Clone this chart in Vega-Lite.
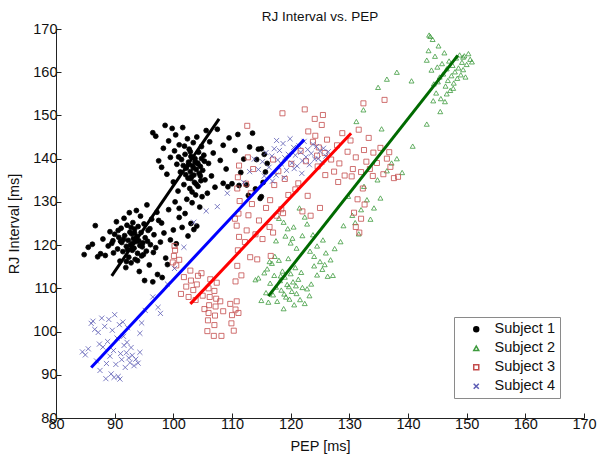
{
"$schema": "https://vega.github.io/schema/vega-lite/v6.json",
"width": 528, "height": 389,
"autosize": "none",
"padding": {"left": 56, "top": 29, "right": 16, "bottom": 44},
"background": "white",
"config": {"view": {"stroke": null}, "font": "Liberation Sans",
  "axis": {"grid": false, "domainColor": "#222", "tickColor": "#222", "labelColor": "#111", "titleColor": "#111", "labelFontSize": 14.5, "titleFontSize": 14.5, "titleFontWeight": "normal", "tickSize": -5, "labelFont": "Liberation Sans", "titleFont": "Liberation Sans", "labelFlush": false, "labelOverlap": false}},
"title": {"text": "RJ Interval vs. PEP", "fontSize": 13.5, "fontWeight": "normal", "font": "Liberation Sans", "color": "#111", "baseline": "alphabetic", "offset": -13, "anchor": "middle"},
"datasets": {
"lines": [
{"subject": "Subject 1", "pep": 89.5, "rj": 112.9}, {"subject": "Subject 1", "pep": 107.8, "rj": 149.2},
{"subject": "Subject 2", "pep": 116.2, "rj": 108.2}, {"subject": "Subject 2", "pep": 148.5, "rj": 163.9},
{"subject": "Subject 3", "pep": 102.9, "rj": 106.4}, {"subject": "Subject 3", "pep": 130.3, "rj": 145.9},
{"subject": "Subject 4", "pep": 86.0, "rj": 91.7}, {"subject": "Subject 4", "pep": 122.3, "rj": 144.4}
],
"points": [
{"subject":"Subject 1","pep":84.8,"rj":117.8},{"subject":"Subject 1","pep":85.5,"rj":119.5},{"subject":"Subject 1","pep":86.2,"rj":120.2},{"subject":"Subject 1","pep":86.7,"rj":124.5},{"subject":"Subject 1","pep":87.1,"rj":117.3},{"subject":"Subject 1","pep":87.6,"rj":118.0},{"subject":"Subject 1","pep":88.0,"rj":121.4},{"subject":"Subject 1","pep":88.4,"rj":117.6},{"subject":"Subject 1","pep":88.9,"rj":119.8},{"subject":"Subject 1","pep":89.2,"rj":123.1},
{"subject":"Subject 1","pep":89.5,"rj":120.4},{"subject":"Subject 1","pep":89.8,"rj":118.2},{"subject":"Subject 1","pep":90.0,"rj":122.5},{"subject":"Subject 1","pep":90.3,"rj":125.4},{"subject":"Subject 1","pep":90.5,"rj":119.1},{"subject":"Subject 1","pep":90.7,"rj":121.8},{"subject":"Subject 1","pep":90.9,"rj":116.3},{"subject":"Subject 1","pep":91.1,"rj":123.9},{"subject":"Subject 1","pep":91.2,"rj":120.6},{"subject":"Subject 1","pep":91.4,"rj":118.5},
{"subject":"Subject 1","pep":91.6,"rj":126.2},{"subject":"Subject 1","pep":91.7,"rj":122.2},{"subject":"Subject 1","pep":91.9,"rj":114.8},{"subject":"Subject 1","pep":92.0,"rj":119.7},{"subject":"Subject 1","pep":92.1,"rj":124.6},{"subject":"Subject 1","pep":92.3,"rj":121.1},{"subject":"Subject 1","pep":92.4,"rj":117.2},{"subject":"Subject 1","pep":92.5,"rj":127.5},{"subject":"Subject 1","pep":92.6,"rj":123.0},{"subject":"Subject 1","pep":92.7,"rj":120.0},
{"subject":"Subject 1","pep":92.8,"rj":115.9},{"subject":"Subject 1","pep":92.9,"rj":122.6},{"subject":"Subject 1","pep":93.0,"rj":118.8},{"subject":"Subject 1","pep":93.1,"rj":125.2},{"subject":"Subject 1","pep":93.2,"rj":121.5},{"subject":"Subject 1","pep":93.3,"rj":119.3},{"subject":"Subject 1","pep":93.4,"rj":123.7},{"subject":"Subject 1","pep":93.5,"rj":116.7},{"subject":"Subject 1","pep":93.6,"rj":120.8},{"subject":"Subject 1","pep":93.7,"rj":128.0},
{"subject":"Subject 1","pep":93.8,"rj":122.0},{"subject":"Subject 1","pep":93.9,"rj":118.1},{"subject":"Subject 1","pep":94.0,"rj":124.3},{"subject":"Subject 1","pep":94.1,"rj":121.0},{"subject":"Subject 1","pep":94.2,"rj":113.9},{"subject":"Subject 1","pep":94.3,"rj":119.9},{"subject":"Subject 1","pep":94.4,"rj":126.7},{"subject":"Subject 1","pep":94.5,"rj":122.9},{"subject":"Subject 1","pep":94.6,"rj":117.5},{"subject":"Subject 1","pep":94.8,"rj":120.5},
{"subject":"Subject 1","pep":95.0,"rj":124.9},{"subject":"Subject 1","pep":95.1,"rj":111.8},{"subject":"Subject 1","pep":95.2,"rj":121.7},{"subject":"Subject 1","pep":95.4,"rj":118.6},{"subject":"Subject 1","pep":95.5,"rj":129.3},{"subject":"Subject 1","pep":95.7,"rj":123.4},{"subject":"Subject 1","pep":95.9,"rj":115.4},{"subject":"Subject 1","pep":96.1,"rj":120.1},{"subject":"Subject 1","pep":96.3,"rj":126.0},{"subject":"Subject 1","pep":96.5,"rj":111.5},
{"subject":"Subject 1","pep":96.7,"rj":122.4},{"subject":"Subject 1","pep":97.0,"rj":119.4},{"subject":"Subject 1","pep":97.3,"rj":113.2},{"subject":"Subject 1","pep":97.5,"rj":125.7},{"subject":"Subject 1","pep":97.8,"rj":120.7},{"subject":"Subject 1","pep":98.1,"rj":112.5},{"subject":"Subject 1","pep":98.4,"rj":122.8},{"subject":"Subject 1","pep":98.7,"rj":117.0},{"subject":"Subject 1","pep":99.0,"rj":115.5},{"subject":"Subject 1","pep":99.5,"rj":121.2},
{"subject":"Subject 1","pep":100.0,"rj":123.5},{"subject":"Subject 1","pep":100.5,"rj":120.3},{"subject":"Subject 1","pep":101.0,"rj":126.4},{"subject":"Subject 1","pep":101.5,"rj":124.1},{"subject":"Subject 1","pep":102.0,"rj":127.3},{"subject":"Subject 1","pep":102.5,"rj":122.1},{"subject":"Subject 1","pep":103.0,"rj":125.0},{"subject":"Subject 1","pep":103.5,"rj":123.6},{"subject":"Subject 1","pep":104.0,"rj":124.4},{"subject":"Subject 1","pep":101.0,"rj":128.5},
{"subject":"Subject 1","pep":100.3,"rj":130.0},{"subject":"Subject 1","pep":91.5,"rj":121.3},{"subject":"Subject 1","pep":92.2,"rj":118.9},{"subject":"Subject 1","pep":93.4,"rj":122.8},{"subject":"Subject 1","pep":94.7,"rj":119.6},{"subject":"Subject 1","pep":92.8,"rj":124.1},{"subject":"Subject 1","pep":91.0,"rj":120.9},{"subject":"Subject 1","pep":93.9,"rj":116.4},{"subject":"Subject 1","pep":95.6,"rj":120.9},{"subject":"Subject 1","pep":90.6,"rj":123.4},
{"subject":"Subject 1","pep":94.9,"rj":117.8},{"subject":"Subject 1","pep":96.0,"rj":123.8},{"subject":"Subject 1","pep":92.0,"rj":116.2},{"subject":"Subject 1","pep":93.0,"rj":120.4},{"subject":"Subject 1","pep":89.7,"rj":121.0},{"subject":"Subject 1","pep":96.6,"rj":118.3},{"subject":"Subject 1","pep":98.0,"rj":125.1},{"subject":"Subject 1","pep":97.2,"rj":127.6},{"subject":"Subject 1","pep":99.2,"rj":128.2},
{"subject":"Subject 1","pep":96.5,"rj":146.0},{"subject":"Subject 1","pep":97.0,"rj":145.2},{"subject":"Subject 1","pep":97.5,"rj":139.5},{"subject":"Subject 1","pep":98.0,"rj":138.0},{"subject":"Subject 1","pep":98.3,"rj":142.4},{"subject":"Subject 1","pep":98.6,"rj":147.7},{"subject":"Subject 1","pep":98.9,"rj":136.4},{"subject":"Subject 1","pep":99.2,"rj":144.1},{"subject":"Subject 1","pep":99.5,"rj":140.3},{"subject":"Subject 1","pep":99.8,"rj":147.0},
{"subject":"Subject 1","pep":100.0,"rj":134.6},{"subject":"Subject 1","pep":100.2,"rj":141.8},{"subject":"Subject 1","pep":100.4,"rj":145.5},{"subject":"Subject 1","pep":100.6,"rj":138.7},{"subject":"Subject 1","pep":100.8,"rj":132.5},{"subject":"Subject 1","pep":101.0,"rj":143.2},{"subject":"Subject 1","pep":101.2,"rj":136.9},{"subject":"Subject 1","pep":101.4,"rj":139.8},{"subject":"Subject 1","pep":101.6,"rj":147.2},{"subject":"Subject 1","pep":101.8,"rj":134.0},
{"subject":"Subject 1","pep":102.0,"rj":141.0},{"subject":"Subject 1","pep":102.2,"rj":137.8},{"subject":"Subject 1","pep":102.3,"rj":130.6},{"subject":"Subject 1","pep":102.4,"rj":144.6},{"subject":"Subject 1","pep":102.5,"rj":135.5},{"subject":"Subject 1","pep":102.6,"rj":139.2},{"subject":"Subject 1","pep":102.7,"rj":142.2},{"subject":"Subject 1","pep":102.8,"rj":133.1},{"subject":"Subject 1","pep":102.9,"rj":137.0},{"subject":"Subject 1","pep":103.0,"rj":140.5},
{"subject":"Subject 1","pep":103.1,"rj":135.9},{"subject":"Subject 1","pep":103.2,"rj":129.8},{"subject":"Subject 1","pep":103.3,"rj":138.4},{"subject":"Subject 1","pep":103.4,"rj":143.7},{"subject":"Subject 1","pep":103.5,"rj":136.2},{"subject":"Subject 1","pep":103.6,"rj":134.5},{"subject":"Subject 1","pep":103.7,"rj":140.0},{"subject":"Subject 1","pep":103.8,"rj":131.6},{"subject":"Subject 1","pep":103.9,"rj":137.5},{"subject":"Subject 1","pep":104.0,"rj":145.0},
{"subject":"Subject 1","pep":104.1,"rj":139.0},{"subject":"Subject 1","pep":104.2,"rj":133.6},{"subject":"Subject 1","pep":104.3,"rj":141.5},{"subject":"Subject 1","pep":104.4,"rj":136.6},{"subject":"Subject 1","pep":104.5,"rj":128.8},{"subject":"Subject 1","pep":104.6,"rj":138.2},{"subject":"Subject 1","pep":104.7,"rj":134.9},{"subject":"Subject 1","pep":104.8,"rj":142.8},{"subject":"Subject 1","pep":104.9,"rj":131.2},{"subject":"Subject 1","pep":105.0,"rj":137.3},
{"subject":"Subject 1","pep":105.2,"rj":140.8},{"subject":"Subject 1","pep":105.4,"rj":135.1},{"subject":"Subject 1","pep":105.6,"rj":146.5},{"subject":"Subject 1","pep":105.8,"rj":132.0},{"subject":"Subject 1","pep":106.0,"rj":138.9},{"subject":"Subject 1","pep":106.2,"rj":143.9},{"subject":"Subject 1","pep":106.5,"rj":136.0},{"subject":"Subject 1","pep":106.8,"rj":141.3},{"subject":"Subject 1","pep":107.1,"rj":133.4},{"subject":"Subject 1","pep":107.5,"rj":146.8},
{"subject":"Subject 1","pep":108.0,"rj":139.6},{"subject":"Subject 1","pep":108.5,"rj":143.1},{"subject":"Subject 1","pep":109.0,"rj":137.6},{"subject":"Subject 1","pep":109.5,"rj":144.8},{"subject":"Subject 1","pep":110.0,"rj":134.2},{"subject":"Subject 1","pep":110.5,"rj":141.9},{"subject":"Subject 1","pep":111.0,"rj":145.6},{"subject":"Subject 1","pep":111.5,"rj":136.8},{"subject":"Subject 1","pep":112.0,"rj":139.9},{"subject":"Subject 1","pep":113.0,"rj":142.7},
{"subject":"Subject 1","pep":113.5,"rj":145.9},{"subject":"Subject 1","pep":112.5,"rj":133.9},{"subject":"Subject 1","pep":114.0,"rj":133.0},{"subject":"Subject 1","pep":114.5,"rj":142.2},{"subject":"Subject 1","pep":115.0,"rj":142.3},{"subject":"Subject 1","pep":115.5,"rj":141.0},{"subject":"Subject 1","pep":115.0,"rj":131.2},{"subject":"Subject 1","pep":114.8,"rj":130.8},{"subject":"Subject 1","pep":115.3,"rj":134.5},{"subject":"Subject 1","pep":115.7,"rj":136.9},
{"subject":"Subject 1","pep":116.0,"rj":138.9},{"subject":"Subject 1","pep":114.2,"rj":139.8},{"subject":"Subject 1","pep":108.5,"rj":134.3},{"subject":"Subject 1","pep":109.3,"rj":133.5},{"subject":"Subject 1","pep":111.2,"rj":133.8},{"subject":"Subject 1","pep":112.8,"rj":131.5},{"subject":"Subject 1","pep":103.4,"rj":137.9},{"subject":"Subject 1","pep":102.1,"rj":136.3},{"subject":"Subject 1","pep":104.2,"rj":138.8},{"subject":"Subject 1","pep":103.0,"rj":135.4},
{"subject":"Subject 1","pep":102.6,"rj":138.6},{"subject":"Subject 1","pep":104.6,"rj":136.0},{"subject":"Subject 1","pep":103.7,"rj":139.3},{"subject":"Subject 1","pep":101.7,"rj":138.4},{"subject":"Subject 1","pep":105.3,"rj":139.4},{"subject":"Subject 1","pep":102.9,"rj":141.6},{"subject":"Subject 1","pep":103.9,"rj":134.1},{"subject":"Subject 1","pep":101.9,"rj":142.9},{"subject":"Subject 1","pep":104.8,"rj":140.0},{"subject":"Subject 1","pep":100.9,"rj":140.4},{"subject":"Subject 1","pep":103.2,"rj":132.3},

{"subject":"Subject 2","pep":114.0,"rj":112.0},{"subject":"Subject 2","pep":114.5,"rj":112.4},{"subject":"Subject 2","pep":115.0,"rj":107.2},{"subject":"Subject 2","pep":115.5,"rj":113.6},{"subject":"Subject 2","pep":115.8,"rj":109.0},{"subject":"Subject 2","pep":116.0,"rj":114.5},{"subject":"Subject 2","pep":116.2,"rj":106.8},{"subject":"Subject 2","pep":116.5,"rj":111.2},{"subject":"Subject 2","pep":116.8,"rj":115.8},{"subject":"Subject 2","pep":117.0,"rj":108.5},
{"subject":"Subject 2","pep":117.2,"rj":113.0},{"subject":"Subject 2","pep":117.5,"rj":110.3},{"subject":"Subject 2","pep":117.7,"rj":107.0},{"subject":"Subject 2","pep":118.0,"rj":116.5},{"subject":"Subject 2","pep":118.2,"rj":111.8},{"subject":"Subject 2","pep":118.4,"rj":109.6},{"subject":"Subject 2","pep":118.6,"rj":114.0},{"subject":"Subject 2","pep":118.8,"rj":105.3},{"subject":"Subject 2","pep":119.0,"rj":112.6},{"subject":"Subject 2","pep":119.2,"rj":108.0},
{"subject":"Subject 2","pep":119.4,"rj":110.9},{"subject":"Subject 2","pep":119.6,"rj":116.9},{"subject":"Subject 2","pep":119.8,"rj":107.5},{"subject":"Subject 2","pep":120.0,"rj":113.4},{"subject":"Subject 2","pep":120.2,"rj":109.3},{"subject":"Subject 2","pep":120.4,"rj":111.5},{"subject":"Subject 2","pep":120.6,"rj":106.2},{"subject":"Subject 2","pep":120.8,"rj":114.8},{"subject":"Subject 2","pep":121.0,"rj":108.8},{"subject":"Subject 2","pep":121.3,"rj":112.1},
{"subject":"Subject 2","pep":121.6,"rj":107.4},{"subject":"Subject 2","pep":122.0,"rj":110.2},{"subject":"Subject 2","pep":122.4,"rj":106.5},{"subject":"Subject 2","pep":122.8,"rj":109.9},{"subject":"Subject 2","pep":123.2,"rj":108.3},{"subject":"Subject 2","pep":123.5,"rj":111.0},{"subject":"Subject 2","pep":124.0,"rj":115.2},{"subject":"Subject 2","pep":124.5,"rj":113.1},{"subject":"Subject 2","pep":125.0,"rj":116.2},{"subject":"Subject 2","pep":125.4,"rj":114.4},
{"subject":"Subject 2","pep":125.8,"rj":115.5},{"subject":"Subject 2","pep":126.3,"rj":112.8},{"subject":"Subject 2","pep":127.2,"rj":113.0},{"subject":"Subject 2","pep":117.3,"rj":117.4},{"subject":"Subject 2","pep":118.3,"rj":112.9},{"subject":"Subject 2","pep":119.7,"rj":110.4},{"subject":"Subject 2","pep":120.9,"rj":110.6},{"subject":"Subject 2","pep":121.8,"rj":113.7},{"subject":"Subject 2","pep":116.4,"rj":116.2},{"subject":"Subject 2","pep":118.9,"rj":108.7},
{"subject":"Subject 2","pep":117.5,"rj":121.0},{"subject":"Subject 2","pep":118.0,"rj":126.2},{"subject":"Subject 2","pep":118.8,"rj":125.3},{"subject":"Subject 2","pep":119.5,"rj":123.8},{"subject":"Subject 2","pep":120.0,"rj":120.5},{"subject":"Subject 2","pep":120.5,"rj":124.2},{"subject":"Subject 2","pep":121.0,"rj":119.3},{"subject":"Subject 2","pep":121.5,"rj":128.6},{"subject":"Subject 2","pep":122.0,"rj":122.2},{"subject":"Subject 2","pep":122.8,"rj":124.9},
{"subject":"Subject 2","pep":123.3,"rj":118.6},{"subject":"Subject 2","pep":124.0,"rj":117.4},{"subject":"Subject 2","pep":124.5,"rj":119.8},{"subject":"Subject 2","pep":125.5,"rj":121.2},{"subject":"Subject 2","pep":126.0,"rj":118.2},{"subject":"Subject 2","pep":126.8,"rj":116.6},{"subject":"Subject 2","pep":127.5,"rj":119.2},{"subject":"Subject 2","pep":128.5,"rj":120.8},{"subject":"Subject 2","pep":129.0,"rj":124.5},{"subject":"Subject 2","pep":129.8,"rj":131.3},
{"subject":"Subject 2","pep":130.5,"rj":126.9},{"subject":"Subject 2","pep":131.0,"rj":125.2},{"subject":"Subject 2","pep":131.6,"rj":122.6},{"subject":"Subject 2","pep":132.0,"rj":128.2},{"subject":"Subject 2","pep":132.5,"rj":133.6},{"subject":"Subject 2","pep":133.0,"rj":130.5},{"subject":"Subject 2","pep":133.6,"rj":126.0},{"subject":"Subject 2","pep":134.2,"rj":128.6},{"subject":"Subject 2","pep":134.8,"rj":135.1},{"subject":"Subject 2","pep":135.3,"rj":130.9},
{"subject":"Subject 2","pep":136.4,"rj":137.2},{"subject":"Subject 2","pep":137.2,"rj":139.0},{"subject":"Subject 2","pep":138.1,"rj":140.0},{"subject":"Subject 2","pep":139.0,"rj":136.8},{"subject":"Subject 2","pep":131.2,"rj":148.6},{"subject":"Subject 2","pep":135.5,"rj":146.9},{"subject":"Subject 2","pep":140.8,"rj":142.9},{"subject":"Subject 2","pep":143.2,"rj":148.0},{"subject":"Subject 2","pep":138.1,"rj":160.0},{"subject":"Subject 2","pep":136.4,"rj":158.4},
{"subject":"Subject 2","pep":134.9,"rj":156.5},{"subject":"Subject 2","pep":132.4,"rj":151.3},{"subject":"Subject 2","pep":140.6,"rj":158.0},{"subject":"Subject 2","pep":120.3,"rj":121.6},{"subject":"Subject 2","pep":119.1,"rj":122.1},{"subject":"Subject 2","pep":122.4,"rj":126.5},{"subject":"Subject 2","pep":123.8,"rj":122.4},
{"subject":"Subject 2","pep":143.6,"rj":168.6},{"subject":"Subject 2","pep":143.2,"rj":162.8},{"subject":"Subject 2","pep":143.5,"rj":165.0},{"subject":"Subject 2","pep":143.8,"rj":168.3},{"subject":"Subject 2","pep":144.0,"rj":160.5},{"subject":"Subject 2","pep":144.2,"rj":167.6},{"subject":"Subject 2","pep":144.4,"rj":157.3},{"subject":"Subject 2","pep":144.6,"rj":163.7},{"subject":"Subject 2","pep":144.8,"rj":155.2},{"subject":"Subject 2","pep":145.0,"rj":161.2},
{"subject":"Subject 2","pep":145.2,"rj":166.1},{"subject":"Subject 2","pep":145.4,"rj":158.9},{"subject":"Subject 2","pep":145.6,"rj":153.9},{"subject":"Subject 2","pep":145.8,"rj":162.0},{"subject":"Subject 2","pep":146.0,"rj":159.6},{"subject":"Subject 2","pep":146.2,"rj":164.5},{"subject":"Subject 2","pep":146.4,"rj":156.8},{"subject":"Subject 2","pep":146.6,"rj":160.8},{"subject":"Subject 2","pep":146.8,"rj":158.1},{"subject":"Subject 2","pep":147.0,"rj":162.6},
{"subject":"Subject 2","pep":147.2,"rj":155.8},{"subject":"Subject 2","pep":147.4,"rj":159.2},{"subject":"Subject 2","pep":147.6,"rj":161.6},{"subject":"Subject 2","pep":147.8,"rj":157.5},{"subject":"Subject 2","pep":148.0,"rj":160.1},{"subject":"Subject 2","pep":148.2,"rj":163.3},{"subject":"Subject 2","pep":148.4,"rj":158.6},{"subject":"Subject 2","pep":148.6,"rj":161.0},{"subject":"Subject 2","pep":148.8,"rj":164.0},{"subject":"Subject 2","pep":149.0,"rj":159.4},
{"subject":"Subject 2","pep":149.2,"rj":162.3},{"subject":"Subject 2","pep":149.4,"rj":160.6},{"subject":"Subject 2","pep":149.6,"rj":163.8},{"subject":"Subject 2","pep":149.8,"rj":158.9},{"subject":"Subject 2","pep":150.0,"rj":161.8},{"subject":"Subject 2","pep":150.3,"rj":164.3},{"subject":"Subject 2","pep":150.6,"rj":163.0},{"subject":"Subject 2","pep":150.9,"rj":162.4},{"subject":"Subject 2","pep":145.5,"rj":150.9},{"subject":"Subject 2","pep":146.6,"rj":155.0},
{"subject":"Subject 2","pep":147.7,"rj":156.3},{"subject":"Subject 2","pep":146.3,"rj":153.2},{"subject":"Subject 2","pep":144.3,"rj":153.4},{"subject":"Subject 2","pep":149.4,"rj":163.5},{"subject":"Subject 2","pep":145.1,"rj":157.8},

{"subject":"Subject 3","pep":99.9,"rj":116.0},{"subject":"Subject 3","pep":100.1,"rj":117.5},{"subject":"Subject 3","pep":100.3,"rj":118.8},{"subject":"Subject 3","pep":100.5,"rj":115.3},{"subject":"Subject 3","pep":100.2,"rj":119.8},{"subject":"Subject 3","pep":101.0,"rj":116.6},
{"subject":"Subject 3","pep":101.8,"rj":112.6},{"subject":"Subject 3","pep":102.2,"rj":110.4},{"subject":"Subject 3","pep":102.6,"rj":108.0},{"subject":"Subject 3","pep":103.0,"rj":111.8},{"subject":"Subject 3","pep":103.4,"rj":109.6},{"subject":"Subject 3","pep":103.8,"rj":107.3},{"subject":"Subject 3","pep":104.2,"rj":112.9},{"subject":"Subject 3","pep":104.0,"rj":110.9},{"subject":"Subject 3","pep":101.3,"rj":108.7},{"subject":"Subject 3","pep":102.9,"rj":114.1},
{"subject":"Subject 3","pep":105.8,"rj":100.1},{"subject":"Subject 3","pep":105.9,"rj":102.6},{"subject":"Subject 3","pep":106.0,"rj":104.3},{"subject":"Subject 3","pep":106.1,"rj":106.1},{"subject":"Subject 3","pep":106.2,"rj":108.0},{"subject":"Subject 3","pep":106.0,"rj":110.0},{"subject":"Subject 3","pep":106.3,"rj":112.1},{"subject":"Subject 3","pep":106.9,"rj":99.0},{"subject":"Subject 3","pep":107.0,"rj":101.5},{"subject":"Subject 3","pep":107.1,"rj":103.7},
{"subject":"Subject 3","pep":107.2,"rj":105.8},{"subject":"Subject 3","pep":107.3,"rj":107.6},{"subject":"Subject 3","pep":107.0,"rj":109.4},{"subject":"Subject 3","pep":107.4,"rj":111.3},{"subject":"Subject 3","pep":108.2,"rj":99.0},{"subject":"Subject 3","pep":108.5,"rj":104.7},{"subject":"Subject 3","pep":108.0,"rj":107.0},{"subject":"Subject 3","pep":105.3,"rj":105.2},{"subject":"Subject 3","pep":105.0,"rj":108.3},{"subject":"Subject 3","pep":104.8,"rj":113.5},
{"subject":"Subject 3","pep":109.7,"rj":106.4},{"subject":"Subject 3","pep":110.0,"rj":103.8},{"subject":"Subject 3","pep":110.3,"rj":100.2},{"subject":"Subject 3","pep":110.6,"rj":105.1},{"subject":"Subject 3","pep":110.8,"rj":107.0},{"subject":"Subject 3","pep":109.9,"rj":101.9},{"subject":"Subject 3","pep":111.1,"rj":104.3},
{"subject":"Subject 3","pep":110.6,"rj":111.6},{"subject":"Subject 3","pep":110.9,"rj":115.2},{"subject":"Subject 3","pep":111.0,"rj":118.8},{"subject":"Subject 3","pep":111.2,"rj":121.9},{"subject":"Subject 3","pep":110.8,"rj":124.5},{"subject":"Subject 3","pep":111.1,"rj":127.3},{"subject":"Subject 3","pep":111.3,"rj":130.2},{"subject":"Subject 3","pep":110.9,"rj":133.1},{"subject":"Subject 3","pep":111.0,"rj":135.7},{"subject":"Subject 3","pep":111.2,"rj":138.4},{"subject":"Subject 3","pep":110.5,"rj":126.1},{"subject":"Subject 3","pep":111.6,"rj":113.0},
{"subject":"Subject 3","pep":112.2,"rj":120.7},{"subject":"Subject 3","pep":112.5,"rj":123.4},{"subject":"Subject 3","pep":112.8,"rj":126.9},{"subject":"Subject 3","pep":113.1,"rj":117.2},{"subject":"Subject 3","pep":113.4,"rj":129.5},{"subject":"Subject 3","pep":112.4,"rj":134.2},{"subject":"Subject 3","pep":113.6,"rj":137.6},{"subject":"Subject 3","pep":112.7,"rj":140.3},{"subject":"Subject 3","pep":113.2,"rj":132.0},{"subject":"Subject 3","pep":112.6,"rj":147.6},
{"subject":"Subject 3","pep":114.0,"rj":122.5},{"subject":"Subject 3","pep":114.6,"rj":125.7},{"subject":"Subject 3","pep":115.2,"rj":121.4},{"subject":"Subject 3","pep":115.8,"rj":128.6},{"subject":"Subject 3","pep":116.4,"rj":124.2},{"subject":"Subject 3","pep":117.0,"rj":122.9},{"subject":"Subject 3","pep":117.6,"rj":126.8},{"subject":"Subject 3","pep":114.3,"rj":116.7},{"subject":"Subject 3","pep":116.6,"rj":117.5},
{"subject":"Subject 3","pep":116.5,"rj":130.4},{"subject":"Subject 3","pep":117.2,"rj":133.9},{"subject":"Subject 3","pep":117.9,"rj":137.1},{"subject":"Subject 3","pep":118.4,"rj":128.3},{"subject":"Subject 3","pep":119.0,"rj":135.3},{"subject":"Subject 3","pep":119.6,"rj":131.6},{"subject":"Subject 3","pep":120.1,"rj":138.8},{"subject":"Subject 3","pep":118.7,"rj":127.4},{"subject":"Subject 3","pep":117.0,"rj":139.8},
{"subject":"Subject 3","pep":118.6,"rj":150.5},{"subject":"Subject 3","pep":121.3,"rj":134.3},{"subject":"Subject 3","pep":122.4,"rj":151.4},{"subject":"Subject 3","pep":122.0,"rj":127.8},{"subject":"Subject 3","pep":122.9,"rj":131.4},{"subject":"Subject 3","pep":123.4,"rj":126.8},{"subject":"Subject 3","pep":123.8,"rj":143.9},{"subject":"Subject 3","pep":124.2,"rj":145.3},{"subject":"Subject 3","pep":124.5,"rj":140.7},{"subject":"Subject 3","pep":124.8,"rj":142.6},
{"subject":"Subject 3","pep":125.0,"rj":128.6},{"subject":"Subject 3","pep":125.3,"rj":147.8},{"subject":"Subject 3","pep":125.5,"rj":150.1},{"subject":"Subject 3","pep":125.9,"rj":136.2},{"subject":"Subject 3","pep":126.2,"rj":144.4},{"subject":"Subject 3","pep":123.0,"rj":146.3},{"subject":"Subject 3","pep":124.1,"rj":149.2},{"subject":"Subject 3","pep":124.6,"rj":138.2},{"subject":"Subject 3","pep":122.6,"rj":139.4},{"subject":"Subject 3","pep":121.7,"rj":141.8},{"subject":"Subject 3","pep":120.8,"rj":132.9},{"subject":"Subject 3","pep":125.8,"rj":141.3},
{"subject":"Subject 3","pep":126.9,"rj":139.8},{"subject":"Subject 3","pep":127.4,"rj":137.0},{"subject":"Subject 3","pep":127.9,"rj":143.1},{"subject":"Subject 3","pep":128.3,"rj":138.9},{"subject":"Subject 3","pep":128.8,"rj":145.9},{"subject":"Subject 3","pep":129.2,"rj":136.1},{"subject":"Subject 3","pep":129.7,"rj":141.6},{"subject":"Subject 3","pep":130.2,"rj":144.2},{"subject":"Subject 3","pep":130.6,"rj":137.6},{"subject":"Subject 3","pep":131.1,"rj":140.3},
{"subject":"Subject 3","pep":131.6,"rj":146.7},{"subject":"Subject 3","pep":132.0,"rj":136.9},{"subject":"Subject 3","pep":132.5,"rj":142.0},{"subject":"Subject 3","pep":132.9,"rj":139.3},{"subject":"Subject 3","pep":133.3,"rj":144.8},{"subject":"Subject 3","pep":128.1,"rj":134.6},{"subject":"Subject 3","pep":130.4,"rj":135.9},
{"subject":"Subject 3","pep":130.8,"rj":127.5},{"subject":"Subject 3","pep":131.1,"rj":124.2},{"subject":"Subject 3","pep":131.4,"rj":130.6},{"subject":"Subject 3","pep":131.7,"rj":122.9},{"subject":"Subject 3","pep":132.0,"rj":126.1},{"subject":"Subject 3","pep":132.3,"rj":133.1},{"subject":"Subject 3","pep":132.6,"rj":129.4},
{"subject":"Subject 3","pep":133.5,"rj":137.6},{"subject":"Subject 3","pep":134.1,"rj":141.4},{"subject":"Subject 3","pep":134.7,"rj":139.0},{"subject":"Subject 3","pep":135.3,"rj":142.5},{"subject":"Subject 3","pep":135.8,"rj":136.4},{"subject":"Subject 3","pep":136.4,"rj":140.0},{"subject":"Subject 3","pep":137.0,"rj":138.1},{"subject":"Subject 3","pep":137.6,"rj":135.5},{"subject":"Subject 3","pep":138.3,"rj":135.8},{"subject":"Subject 3","pep":136.8,"rj":141.5},{"subject":"Subject 3","pep":134.0,"rj":136.0},
{"subject":"Subject 3","pep":136.0,"rj":153.6},{"subject":"Subject 3","pep":132.4,"rj":152.8},

{"subject":"Subject 4","pep":84.5,"rj":95.3},{"subject":"Subject 4","pep":85.0,"rj":94.6},{"subject":"Subject 4","pep":85.5,"rj":96.0},{"subject":"Subject 4","pep":86.0,"rj":101.9},{"subject":"Subject 4","pep":86.3,"rj":102.4},{"subject":"Subject 4","pep":86.6,"rj":100.5},{"subject":"Subject 4","pep":86.9,"rj":93.2},{"subject":"Subject 4","pep":87.2,"rj":99.8},{"subject":"Subject 4","pep":87.5,"rj":91.0},{"subject":"Subject 4","pep":87.8,"rj":103.1},
{"subject":"Subject 4","pep":88.0,"rj":96.4},{"subject":"Subject 4","pep":88.3,"rj":101.2},{"subject":"Subject 4","pep":88.5,"rj":89.1},{"subject":"Subject 4","pep":88.8,"rj":97.7},{"subject":"Subject 4","pep":89.0,"rj":102.8},{"subject":"Subject 4","pep":89.2,"rj":94.3},{"subject":"Subject 4","pep":89.4,"rj":90.2},{"subject":"Subject 4","pep":89.6,"rj":100.3},{"subject":"Subject 4","pep":89.8,"rj":95.6},{"subject":"Subject 4","pep":90.0,"rj":103.9},
{"subject":"Subject 4","pep":90.2,"rj":92.4},{"subject":"Subject 4","pep":90.4,"rj":98.5},{"subject":"Subject 4","pep":90.6,"rj":89.6},{"subject":"Subject 4","pep":90.8,"rj":101.6},{"subject":"Subject 4","pep":91.0,"rj":94.9},{"subject":"Subject 4","pep":91.2,"rj":93.5},{"subject":"Subject 4","pep":91.4,"rj":102.2},{"subject":"Subject 4","pep":91.6,"rj":96.8},{"subject":"Subject 4","pep":91.8,"rj":91.7},{"subject":"Subject 4","pep":92.0,"rj":95.1},
{"subject":"Subject 4","pep":92.2,"rj":100.9},{"subject":"Subject 4","pep":92.4,"rj":93.9},{"subject":"Subject 4","pep":92.6,"rj":92.8},{"subject":"Subject 4","pep":92.8,"rj":96.3},{"subject":"Subject 4","pep":93.0,"rj":94.5},{"subject":"Subject 4","pep":93.3,"rj":92.1},{"subject":"Subject 4","pep":93.6,"rj":93.6},{"subject":"Subject 4","pep":94.0,"rj":92.7},{"subject":"Subject 4","pep":94.3,"rj":95.2},{"subject":"Subject 4","pep":89.9,"rj":89.4},
{"subject":"Subject 4","pep":90.9,"rj":89.0},{"subject":"Subject 4","pep":88.6,"rj":92.6},{"subject":"Subject 4","pep":91.5,"rj":98.9},{"subject":"Subject 4","pep":87.4,"rj":97.1},{"subject":"Subject 4","pep":92.1,"rj":97.5},
{"subject":"Subject 4","pep":94.6,"rj":102.0},{"subject":"Subject 4","pep":94.3,"rj":99.6},{"subject":"Subject 4","pep":95.2,"rj":104.9},{"subject":"Subject 4","pep":96.5,"rj":108.0},{"subject":"Subject 4","pep":97.4,"rj":105.6},{"subject":"Subject 4","pep":97.8,"rj":104.2},{"subject":"Subject 4","pep":99.0,"rj":111.0},{"subject":"Subject 4","pep":100.2,"rj":114.6},{"subject":"Subject 4","pep":101.8,"rj":119.5},{"subject":"Subject 4","pep":103.5,"rj":125.3},
{"subject":"Subject 4","pep":105.6,"rj":127.9},{"subject":"Subject 4","pep":107.5,"rj":128.9},{"subject":"Subject 4","pep":109.2,"rj":132.0},{"subject":"Subject 4","pep":112.0,"rj":134.5},{"subject":"Subject 4","pep":113.0,"rj":137.0},
{"subject":"Subject 4","pep":114.5,"rj":137.5},{"subject":"Subject 4","pep":115.2,"rj":139.3},{"subject":"Subject 4","pep":115.8,"rj":141.4},{"subject":"Subject 4","pep":116.3,"rj":138.0},{"subject":"Subject 4","pep":116.8,"rj":140.6},{"subject":"Subject 4","pep":117.2,"rj":142.3},{"subject":"Subject 4","pep":117.5,"rj":136.2},{"subject":"Subject 4","pep":117.8,"rj":139.7},{"subject":"Subject 4","pep":118.1,"rj":141.9},{"subject":"Subject 4","pep":118.4,"rj":138.8},
{"subject":"Subject 4","pep":118.7,"rj":143.5},{"subject":"Subject 4","pep":119.0,"rj":140.2},{"subject":"Subject 4","pep":119.3,"rj":137.3},{"subject":"Subject 4","pep":119.6,"rj":141.0},{"subject":"Subject 4","pep":119.9,"rj":144.6},{"subject":"Subject 4","pep":120.2,"rj":139.0},{"subject":"Subject 4","pep":120.5,"rj":142.6},{"subject":"Subject 4","pep":120.8,"rj":140.8},{"subject":"Subject 4","pep":121.1,"rj":138.3},{"subject":"Subject 4","pep":121.4,"rj":143.0},
{"subject":"Subject 4","pep":121.7,"rj":141.5},{"subject":"Subject 4","pep":122.0,"rj":139.5},{"subject":"Subject 4","pep":122.3,"rj":144.0},{"subject":"Subject 4","pep":122.6,"rj":140.4},{"subject":"Subject 4","pep":122.9,"rj":142.1},{"subject":"Subject 4","pep":123.2,"rj":138.6},{"subject":"Subject 4","pep":123.5,"rj":141.2},{"subject":"Subject 4","pep":123.8,"rj":143.3},{"subject":"Subject 4","pep":124.1,"rj":139.9},{"subject":"Subject 4","pep":124.4,"rj":142.8},
{"subject":"Subject 4","pep":124.7,"rj":140.0},{"subject":"Subject 4","pep":125.0,"rj":141.7},{"subject":"Subject 4","pep":125.3,"rj":139.2},{"subject":"Subject 4","pep":125.6,"rj":142.4},{"subject":"Subject 4","pep":126.0,"rj":140.6},{"subject":"Subject 4","pep":126.4,"rj":141.6},{"subject":"Subject 4","pep":115.5,"rj":136.0},{"subject":"Subject 4","pep":116.9,"rj":134.8},{"subject":"Subject 4","pep":118.9,"rj":135.6},{"subject":"Subject 4","pep":121.9,"rj":136.6},
{"subject":"Subject 4","pep":120.6,"rj":137.7},{"subject":"Subject 4","pep":117.6,"rj":144.2},{"subject":"Subject 4","pep":113.8,"rj":139.9}
]
},
"layer": [
{"data": {"name": "points"},
 "mark": {"type": "point", "strokeWidth": 0.8, "opacity": 1},
 "encoding": {
  "x": {"field": "pep", "type": "quantitative", "title": "PEP [ms]", "scale": {"domain": [80, 170], "nice": false, "zero": false}, "axis": {"values": [80,90,100,110,120,130,140,150,160,170], "labelPadding": 4, "titlePadding": 9}},
  "y": {"field": "rj", "type": "quantitative", "title": "RJ Interval [ms]", "scale": {"domain": [80, 170], "nice": false, "zero": false}, "axis": {"values": [80,90,100,110,120,130,140,150,160,170], "labelPadding": 4, "titlePadding": 11}},
  "size": {"field": "subject", "type": "nominal", "title": null, "scale": {"domain": ["Subject 1","Subject 2","Subject 3","Subject 4"], "range": [24, 26, 36, 22]}},
  "shape": {"field": "subject", "type": "nominal", "title": null, "scale": {"domain": ["Subject 1","Subject 2","Subject 3","Subject 4"], "range": ["circle","triangle-up","square","M-1,-1L1,1M-1,1L1,-1"]}},
  "stroke": {"field": "subject", "type": "nominal", "title": null, "scale": {"domain": ["Subject 1","Subject 2","Subject 3","Subject 4"], "range": ["#000000","#3d9a3d","#c44c4c","#5c5cb4"]}},
  "fill": {"field": "subject", "type": "nominal", "title": null, "scale": {"domain": ["Subject 1","Subject 2","Subject 3","Subject 4"], "range": ["#000000","transparent","transparent","transparent"]},
   "legend": {"orient": "none", "legendX": 398, "legendY": 288, "padding": 5, "strokeColor": "#8a8a8a", "fillColor": "white", "labelFontSize": 14.5, "labelFont": "Liberation Sans", "labelColor": "#111", "symbolOffset": 10, "labelOffset": 11, "rowPadding": 4}}
 }},
{"data": {"name": "lines"}, "mark": {"type": "line", "strokeWidth": 3},
 "encoding": {"x": {"field": "pep", "type": "quantitative"}, "y": {"field": "rj", "type": "quantitative"},
  "color": {"field": "subject", "type": "nominal", "legend": null, "scale": {"domain": ["Subject 1","Subject 2","Subject 3","Subject 4"], "range": ["#000000","#006a00","#ff0000","#0000ff"]}}}}
]
}
